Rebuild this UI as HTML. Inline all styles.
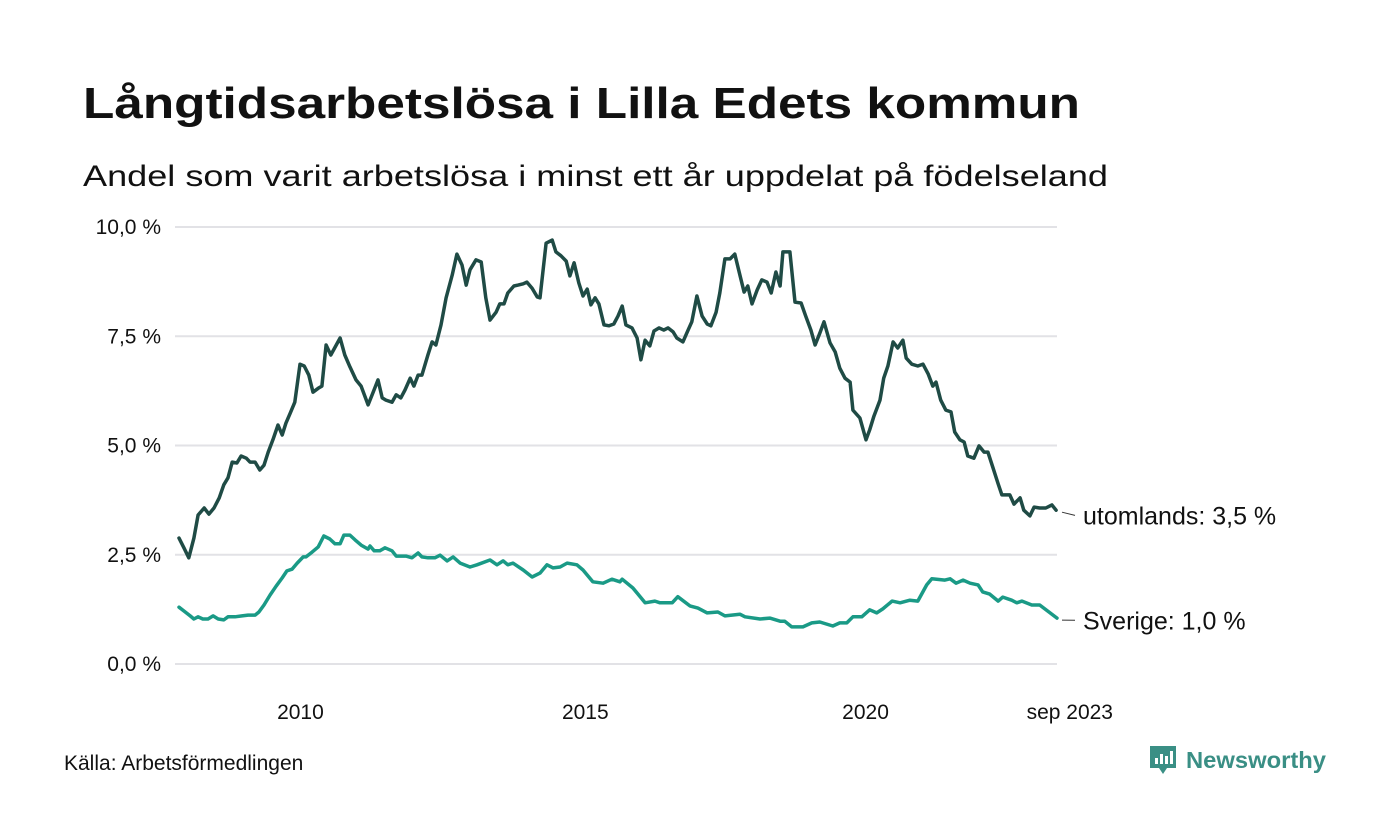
<!DOCTYPE html>
<html><head><meta charset="utf-8"><style>
body{margin:0;background:#fff;}
svg{display:block;font-family:"Liberation Sans",sans-serif;}
</style></head><body>
<svg width="1400" height="840" viewBox="0 0 1400 840">
<text x="83" y="118" font-size="44" font-weight="bold" fill="#111" textLength="997" lengthAdjust="spacingAndGlyphs">Långtidsarbetslösa i Lilla Edets kommun</text>
<text x="83" y="186" font-size="30" fill="#111" textLength="1025" lengthAdjust="spacingAndGlyphs">Andel som varit arbetslösa i minst ett år uppdelat på födelseland</text>
<g id="grid"></g>
<g id="yticks"></g>
<g id="xticks"></g>
<g id="lines"></g>
<g id="labels"></g>
<text x="64" y="770" font-size="21" fill="#111">Källa: Arbetsförmedlingen</text>
<g>
<path d="M1150 746 h26 v22 h-9 l-4 6 l-4 -6 h-9 z" fill="#3a8f85"/>
<rect x="1155" y="758" width="3" height="6" fill="#fff"/><rect x="1160" y="754" width="3" height="10" fill="#fff"/><rect x="1165" y="756" width="3" height="8" fill="#fff"/><rect x="1170" y="751" width="3" height="13" fill="#fff"/>
<text x="1186" y="768" font-size="23" font-weight="bold" fill="#3a8f85" textLength="140" lengthAdjust="spacingAndGlyphs">Newsworthy</text>
</g>
</svg>
<script>
const yTicks=[0,2.5,5,7.5,10];
const yTickLabels=["0,0 %","2,5 %","5,0 %","7,5 %","10,0 %"];
const xTickMonths=[26,87,147,188];
const xTickLabels=["2010","2015","2020","sep 2023"];
const utMonths=[0,1.1,2.1,3.2,4.1,5.4,6.4,7.5,8.6,9.6,10.5,11.4,12.4,13.3,14.4,15.2,16.3,17.3,18.2,19.1,20.1,21.2,22.1,22.9,23.8,24.8,25.9,26.8,27.8,28.7,29.8,30.6,31.5,32.5,34.5,35.5,36.6,37.9,39,40.5,41.5,42.6,43.5,44.3,45.6,46.5,47.5,48.4,49.5,50.3,51.2,52,53.3,54.2,55,56.1,57.2,58.5,59.5,60.6,61.5,62.3,63.6,64.7,65.7,66.6,67.9,68.7,69.6,70.4,71.7,72.6,73.7,74.5,75.6,76.7,77.3,78.6,79.9,80.7,81.8,82.9,83.7,84.6,85.6,86.5,87.4,88.2,89.1,89.9,91,92.1,93.1,94,94.9,95.7,97,98.1,98.9,99.8,100.8,101.7,102.8,103.8,104.7,105.8,106.6,107.9,109,109.8,110.9,112,113.1,113.9,115,115.8,116.9,118,119,120.1,121,121.8,122.7,123.8,124.8,125.9,126.8,127.8,128.7,129.3,130.8,131.9,133.2,134.2,135.3,136.2,137.2,138.1,139.4,140.5,141.5,142.6,143.7,144.3,145.8,147.1,147.9,148.8,150.1,150.9,151.8,152.9,153.9,155,155.7,156.9,158.2,159.3,160.4,161.4,162.1,163.1,164.2,165.3,166.1,167.2,168.1,168.9,170.2,171.3,172.4,173.2,174.3,175.4,176.2,177.9,178.8,180.1,180.9,182.2,183.1,184.3,185.6,186.9,187.8];
const utValues=[2.88,2.65,2.43,2.88,3.41,3.57,3.43,3.57,3.8,4.1,4.26,4.62,4.6,4.76,4.71,4.62,4.62,4.44,4.55,4.85,5.13,5.47,5.24,5.51,5.74,5.99,6.86,6.82,6.61,6.22,6.31,6.36,7.3,7.07,7.46,7.07,6.8,6.5,6.36,5.93,6.2,6.5,6.09,6.04,5.99,6.16,6.09,6.27,6.54,6.36,6.61,6.61,7.07,7.37,7.3,7.76,8.38,8.9,9.38,9.13,8.67,9.02,9.25,9.2,8.38,7.87,8.05,8.24,8.24,8.49,8.65,8.67,8.7,8.74,8.6,8.4,8.38,9.63,9.7,9.43,9.34,9.22,8.88,9.18,8.72,8.42,8.58,8.22,8.38,8.24,7.76,7.74,7.78,7.96,8.19,7.76,7.69,7.46,6.96,7.41,7.28,7.62,7.69,7.64,7.69,7.6,7.46,7.37,7.64,7.83,8.42,7.96,7.78,7.74,8.05,8.49,9.27,9.27,9.38,8.9,8.51,8.65,8.24,8.56,8.79,8.74,8.49,8.97,8.65,9.43,9.43,8.28,8.26,7.96,7.64,7.3,7.57,7.83,7.35,7.14,6.77,6.54,6.45,5.81,5.63,5.13,5.36,5.67,6.04,6.54,6.82,7.37,7.23,7.41,7,6.86,6.82,6.86,6.64,6.36,6.45,6.04,5.81,5.77,5.31,5.13,5.08,4.76,4.71,4.99,4.85,4.85,4.49,4.12,3.87,3.87,3.66,3.8,3.52,3.39,3.59,3.57,3.57,3.64,3.52];
const seMonths=[0,1.1,2.4,3.2,4.1,5.1,6.2,7.3,8.4,9.6,10.5,12,13.5,14.8,16.3,17.1,18.2,19.5,20.8,22.1,23.1,24.2,25.3,26.6,27.2,28.5,29.8,31,32.3,33.4,34.5,35.3,36.6,37.7,39,40.5,40.9,41.8,43,44.1,45.6,46.5,47.5,48.6,49.9,51.2,52,53.3,54.8,55.9,57.4,58.7,60.2,62.3,63.8,66.6,68.1,69.4,70.4,71.5,73.7,75.6,77.3,78.8,80.1,81.6,83.1,85.2,86.5,88.6,90.8,92.7,94.4,94.9,97.2,99.8,101.9,103,105.6,106.8,109.4,111.1,113.1,115.4,116.9,120.1,121.2,124.4,126.5,128.7,129.7,131.2,133.6,135.5,137.2,140,141.5,143,144.3,146.2,147.9,149.4,150.7,152.7,154.4,156.5,158.2,160.1,161.2,164,165.1,166.4,167.9,169.4,171.1,172.1,173.6,175.4,176.4,178.3,179.4,180.5,182.6,184.3,188];
const seValues=[1.3,1.21,1.1,1.03,1.08,1.03,1.03,1.1,1.03,1.01,1.08,1.08,1.1,1.12,1.12,1.19,1.35,1.58,1.78,1.97,2.13,2.17,2.31,2.45,2.45,2.56,2.68,2.93,2.86,2.75,2.75,2.95,2.95,2.84,2.72,2.63,2.7,2.59,2.59,2.66,2.59,2.47,2.47,2.47,2.43,2.54,2.45,2.43,2.43,2.49,2.36,2.45,2.31,2.22,2.27,2.38,2.27,2.36,2.27,2.31,2.15,1.99,2.08,2.27,2.2,2.22,2.31,2.27,2.15,1.88,1.85,1.94,1.88,1.94,1.74,1.4,1.44,1.4,1.4,1.54,1.33,1.28,1.17,1.19,1.1,1.14,1.08,1.03,1.05,0.98,0.98,0.85,0.85,0.94,0.96,0.87,0.94,0.94,1.08,1.08,1.24,1.17,1.26,1.44,1.4,1.46,1.44,1.81,1.95,1.92,1.95,1.85,1.92,1.85,1.81,1.65,1.6,1.44,1.53,1.46,1.4,1.44,1.35,1.35,1.05];
const endLabels=["utomlands: 3,5 %","Sverige: 1,0 %"];

const NS="http://www.w3.org/2000/svg";
const X0=179,X1=1057,M0=0,M1=188,Y0=664,Y1=227,V0=0,V1=10;
function xs(m){return X0+(m-M0)/(M1-M0)*(X1-X0);}
function ys(v){return Y0-(v-V0)/(V1-V0)*(Y0-Y1);}
function mk(tag,attrs,parent){const e=document.createElementNS(NS,tag);for(const k in attrs)e.setAttribute(k,attrs[k]);parent.appendChild(e);return e;}
const grid=document.getElementById('grid'),yt=document.getElementById('yticks'),xt=document.getElementById('xticks'),ln=document.getElementById('lines'),lb=document.getElementById('labels');
yTicks.forEach((v,i)=>{
 const g=mk('line',{x1:175,x2:1057,y1:ys(v),y2:ys(v),stroke:'#e2e2e6','stroke-width':2},grid);
 
 
 const t=mk('text',{x:161,y:ys(v)+7,'font-size':21,'text-anchor':'end',fill:'#111'},yt);
 t.textContent=yTickLabels[i];
 
 
});
xTickMonths.forEach((m,i)=>{
 const anchor=i===xTickMonths.length-1?'end':'middle';
 const t=mk('text',{x:xs(m)+(i===3?56:0),y:719,'font-size':21,'text-anchor':anchor,fill:'#111'},xt);
 t.textContent=xTickLabels[i];
 
 
});
function line(ms,vs,color,name){
 const d=ms.map((m,i)=>(i?'L':'M')+xs(m).toFixed(1)+' '+ys(vs[i]).toFixed(1)).join(' ');
 const p=mk('path',{d:d,fill:'none',stroke:color,'stroke-width':3.5,'stroke-linejoin':'round','stroke-linecap':'round'},ln);
 
 
}
line(seMonths,seValues,'#1a9a86','line-sverige');
line(utMonths,utValues,'#1f4b45','line-utomlands');
[[utValues,3.4,'utomlands-label'],[seValues,1.0,'sverige-label']].forEach((a,i)=>{
 const vs=a[0],yv=ys(vs[vs.length-1]);const yl=ys(a[1]);
 const l=mk('line',{x1:1062,x2:1075,y1:yv+2,y2:yl,stroke:'#333','stroke-width':1},lb);
 
 
 const t=mk('text',{x:1083,y:yl+9,'font-size':25,fill:'#111'},lb);
 t.textContent=endLabels[i];
 
 
});
</script>
</body></html>
